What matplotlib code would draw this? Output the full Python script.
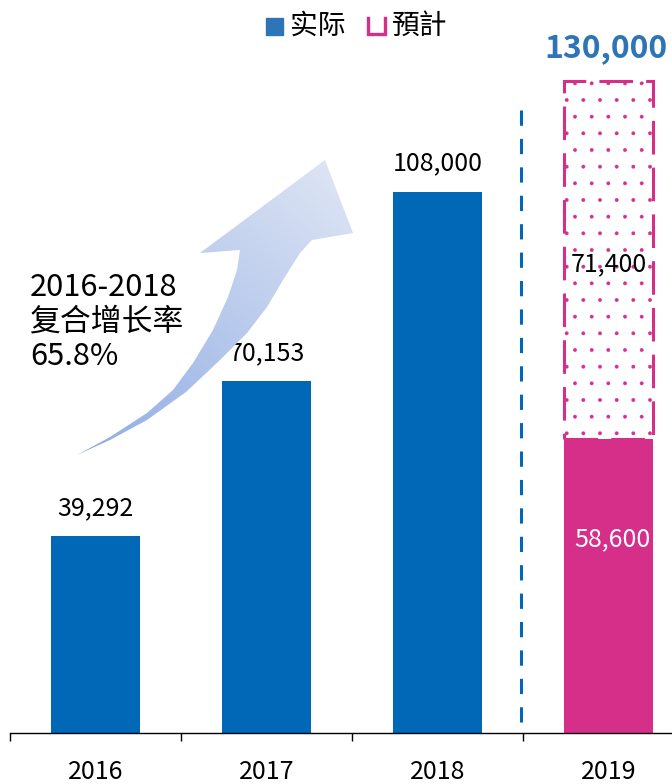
import numpy as np
import matplotlib
matplotlib.use('Agg')
import matplotlib.pyplot as plt
from matplotlib.patches import Rectangle, Polygon

plt.rcParams['font.family'] = ['Noto Sans CJK SC', 'DejaVu Sans']
plt.rcParams['hatch.linewidth'] = 0.3

years = ['2016', '2017', '2018', '2019']
actual = [39292, 70153, 108000, 58600]
forecast_total = 130000
forecast_rest = forecast_total - actual[3]  # 71,400
cagr_text = '2016-2018\n复合增长率\n65.8%'

BLUE = '#0068b7'
LEGEND_BLUE = '#2e75b6'
PINK = '#d62f8a'

fig = plt.figure(figsize=(6.72, 7.84), dpi=100)
ax = fig.add_axes([10 / 672, 51 / 784, 662 / 672, 733 / 784])
ax.set_facecolor('none')

x = np.arange(len(years))
w = 0.515
ax.bar(x[:3], actual[:3], width=w, color=BLUE, zorder=2)

# forecast box for 2019: dotted fill + dashed border
ax.bar(x[3], forecast_rest, bottom=actual[3], width=w, facecolor='white',
       edgecolor=PINK, hatch='.', linewidth=0, zorder=1)
ax.bar(x[3], forecast_rest, bottom=actual[3], width=w, fill=False,
       edgecolor=PINK, linewidth=2.2, linestyle=(0, (11, 4.3)), zorder=1.5)
ax.bar(x[3], actual[3], width=w, color=PINK, zorder=2)

ax.set_xlim(-0.5, -0.5 + 662 / 171)
ax.set_ylim(0, 146200)

for xi, v in zip(x[:3], actual[:3]):
    ax.annotate(f'{v:,}', (xi, v), xytext=(0, 20), textcoords='offset points',
                ha='center', va='center', fontsize=18)
ax.annotate(f'{forecast_total:,}', (x[3], forecast_total), xytext=(-2, 24),
            textcoords='offset points', ha='center', va='center',
            fontsize=23, fontweight='bold', color=LEGEND_BLUE)
ax.text(x[3], actual[3] + forecast_rest / 2 - 900, f'{forecast_rest:,}',
        ha='center', va='center', fontsize=18, zorder=3)
ax.text(x[3] + 0.02, actual[3] * 0.66, f'{actual[3]:,}', ha='center',
        va='center', fontsize=18, color='white', zorder=3)

# divider between actual and forecast years
ax.plot([2.49, 2.49], [124300, 0], color=BLUE, linewidth=2.2,
        linestyle=(0, (5, 4.3)), zorder=1)

for s in ['top', 'left', 'right']:
    ax.spines[s].set_visible(False)
ax.spines['bottom'].set_linewidth(1.0)
ax.set_yticks([])
ax.set_xticks(x)
ax.set_xticklabels(years, fontsize=18)
ax.set_xticks(np.arange(-0.5, 3, 1), minor=True)
ax.tick_params(axis='x', which='major', length=0, pad=19)
ax.tick_params(axis='x', which='minor', length=6, width=1)

# overlay in pixel coordinates for legend and arrow decoration
ov = fig.add_axes([0, 0, 1, 1])
ov.set_xlim(0, 672)
ov.set_ylim(784, 0)
ov.axis('off')

ov.add_patch(Rectangle((266, 18), 17, 17, color=LEGEND_BLUE))
ov.text(290, 26, '实际', va='center', ha='left', fontsize=20)
ov.plot([368, 368, 385, 385], [18, 34, 34, 18], color=PINK, linewidth=2.4,
        solid_joinstyle='miter')
ov.text(392, 26, '預計', va='center', ha='left', fontsize=20)

arrow_pts = [
    (77, 455), (110, 437), (147, 413), (173, 390), (193, 363), (213, 330),
    (228, 297), (237, 270), (240, 250), (200, 253), (325, 160), (353, 233),
    (312, 240), (300, 253), (283, 280), (267, 307), (247, 333), (219, 361),
    (186, 392), (147, 420), (110, 440),
]
arrow = Polygon(arrow_pts, closed=True, facecolor='none', edgecolor='none')
ov.add_patch(arrow)
gx, gy = np.meshgrid(np.linspace(70, 360, 200), np.linspace(150, 460, 200))
t = ((gx - 77) * 0.66 - (gy - 455) * 0.75)
t = (t - t.min()) / (t.max() - t.min())
c0 = np.array([0x8e, 0xab, 0xe4]) / 255
c1 = np.array([0xe3, 0xe9, 0xf5]) / 255
img = c0 + (c1 - c0) * t[..., None]
im = ov.imshow(img, extent=(70, 360, 460, 150), aspect='auto', zorder=1)
im.set_clip_path(arrow)
ov.set_xlim(0, 672)
ov.set_ylim(784, 0)

ov.text(30, 322, cagr_text, ha='left', va='center', fontsize=22.2,
        linespacing=1.13)

fig.savefig('out.png', dpi=100)
